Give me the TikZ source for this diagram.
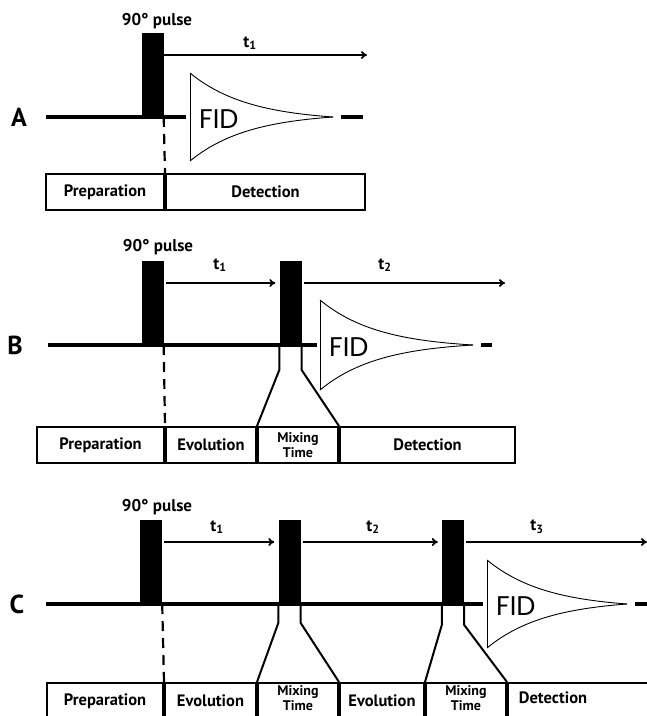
\documentclass[tikz,border=0pt]{standalone}
\usepackage{fontspec}
\setsansfont{PT Sans}
\newfontfamily\fidfont{Poppins}
\usetikzlibrary{arrows.meta, positioning}

\begin{document}
\begin{tikzpicture}[
    x=1pt, y=-1pt,
    font=\sffamily\bfseries,
    >={To[length=6pt,width=8pt]},
    pulse/.style={
        rectangle, fill=black, inner sep=0pt,
        minimum width=22pt, minimum height=84pt, anchor=south
    },
    cell/.style={
        rectangle, draw=black, line width=2pt, inner sep=0pt,
        anchor=north west, minimum height=36pt, minimum width=#1,
        font=\fontsize{16.5}{16.5}\sffamily\bfseries
    },
    celllbl/.style={inner sep=0pt, font=\fontsize{16.5}{16.5}\sffamily\bfseries},
    mixlbl/.style={align=center, inner sep=0pt,
        font=\fontsize{14}{15.5}\sffamily\bfseries},
    panel/.style={font=\fontsize{26}{26}\sffamily\bfseries},
    pulselbl/.style={font=\fontsize{17}{17}\sffamily\bfseries},
    tlbl/.style={font=\fontsize{17}{17}\sffamily\bfseries},
    fidlbl/.style={font=\fontsize{27}{27}\fidfont, inner sep=0pt, anchor=west},
    baseline/.style={line width=3.2pt},
    arr/.style={->, line width=1.8pt, shorten <=2pt, shorten >=4pt},
    funnel/.style={line width=2pt},
    sep/.style={dash pattern=on 10pt off 7pt, line width=2.2pt},
    fidline/.style={line width=0.9pt}
]
\clip (0,0) rectangle (647,716);

% Panel A: one pulse, then detection
\coordinate (aStart) at (46,117);
\coordinate (aEnd) at (186,117);
\draw[baseline] (aStart) -- (aEnd);
\node[panel] (lblA) at (19,117) {A};
\node[pulse] (pA1) at (152.5,117) {};
\node[pulselbl] (pulseA) at (157,21) {90° pulse};
\coordinate (aArrEnd) at (367,55);
\draw[arr, shorten <=0pt, shorten >=0pt] ([yshift=62pt]pA1.south east) -- (aArrEnd);
\node[tlbl] (tA1) at (250,43) {t\textsubscript{1}};
\node[cell=118pt] (cA1) at (45,173) {Preparation};
\node[cell=199pt] (cA2) at (cA1.north east) {Detection};
\draw[sep] (pA1.south east) -- (cA1.north east);

% Panel B: evolution and one mixing pulse
\coordinate (bStart) at (48,345);
\coordinate (bEnd) at (317,345);
\draw[baseline] (bStart) -- (bEnd);
\node[panel] (lblB) at (15,345) {B};
\node[pulse] (pB1) at (152.5,345) {};
\node[pulse] (pB2) at (290.5,345) {};
\node[pulselbl] (pulseB) at (158,247) {90° pulse};
\coordinate (bArrEnd) at (505,283);
\draw[arr] ([yshift=62pt]pB1.south east) -- ([yshift=62pt]pB2.south west);
\draw[arr, shorten >=0pt] ([yshift=62pt]pB2.south east) -- (bArrEnd);
\node[tlbl] (tB1) at (220,265) {t\textsubscript{1}};
\node[tlbl] (tB2) at (385,265) {t\textsubscript{2}};
\node[cell=127pt] (cB1) at (36,426) {Preparation};
\node[cell=90pt] (cB2) at (cB1.north east) {Evolution};
\node[cell=80pt] (cB3) at (cB2.north east) {};
\node[cell=175pt] (cB4) at (cB3.north east) {Detection};
\node[mixlbl] (mB3) at (cB3.center) {Mixing\\Time};
\draw[sep] (pB1.south east) -- (cB1.north east);
\draw[funnel] (pB2.south west) -- ++(0,25) -- (cB3.north west);
\draw[funnel] (pB2.south east) -- ++(0,25) -- (cB3.north east);

% Panel C: two evolution and mixing periods
\coordinate (cStart) at (46,604);
\coordinate (cEnd) at (483,604);
\draw[baseline] (cStart) -- (cEnd);
\node[panel] (lblC) at (17,604) {C};
\node[pulse] (pC1) at (151,604) {};
\node[pulse] (pC2) at (289.5,604) {};
\node[pulse] (pC3) at (453,604) {};
\node[pulselbl] (pulseC) at (157,507) {90° pulse};
\coordinate (cArrEnd) at (647,542);
\draw[arr] ([yshift=62pt]pC1.south east) -- ([yshift=62pt]pC2.south west);
\draw[arr] ([yshift=62pt]pC2.south east) -- ([yshift=62pt]pC3.south west);
\draw[arr, shorten >=0pt] ([yshift=62pt]pC3.south east) -- (cArrEnd);
\node[tlbl] (tC1) at (217,527) {t\textsubscript{1}};
\node[tlbl] (tC2) at (373,527) {t\textsubscript{2}};
\node[tlbl] (tC3) at (537,527) {t\textsubscript{3}};
\node[cell=116pt] (cC1) at (46,682) {Preparation};
\node[cell=91pt] (cC2) at (cC1.north east) {Evolution};
\node[cell=80pt] (cC3) at (cC2.north east) {};
\node[cell=84pt] (cC4) at (cC3.north east) {Evolution};
\node[cell=80pt] (cC5) at (cC4.north east) {};
\node[cell=183pt] (cC6) at (cC5.north east) {};
\node[mixlbl] (mC3) at ([yshift=3pt]cC3.center) {Mixing\\Time};
\node[mixlbl] (mC5) at ([yshift=3pt]cC5.center) {Mixing\\Time};
\node[celllbl] (dC6) at (553,698) {Detection};
\draw[sep] (pC1.south east) -- (cC1.north east);
\draw[funnel] (pC2.south west) -- ++(0,19) -- (cC3.north west);
\draw[funnel] (pC2.south east) -- ++(0,19) -- (cC3.north east);
\draw[funnel] (pC3.south west) -- ++(0,21) -- (cC5.north west);
\draw[funnel] (pC3.south east) -- ++(0,21) -- (cC5.north east);

% Decaying FID envelopes
\foreach \p/\xo/\yb/\amp/\len/\tail in
    {A/190/117/44/143/363, B/320/345/45/153/492, C/487/604/44/140/648} {
    \draw[fidline] (\xo,\yb-\amp) -- (\xo,\yb+\amp);
    \draw[fidline] plot[domain=0:\len, samples=60]
        ({\xo+\x}, {\yb-\amp*(exp(-0.017*\x)-exp(-0.017*\len))/(1-exp(-0.017*\len))});
    \draw[fidline] plot[domain=0:\len, samples=60]
        ({\xo+\x}, {\yb+\amp*(exp(-0.017*\x)-exp(-0.017*\len))/(1-exp(-0.017*\len))});
    \draw[baseline] (\xo+\len+8,\yb) -- (\tail,\yb);
    \node[fidlbl] (fid\p) at (\xo+9,\yb+2) {FID};
}

\end{tikzpicture}
\end{document}
